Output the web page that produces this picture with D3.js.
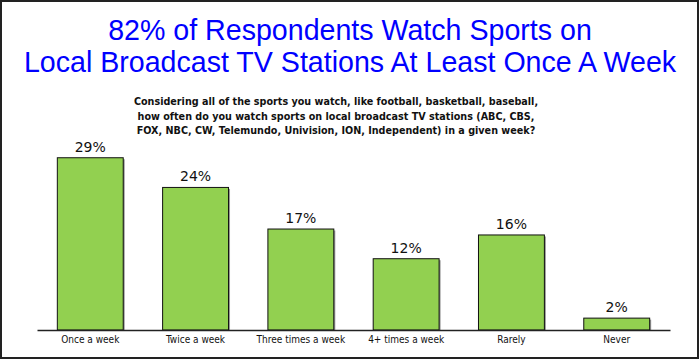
<!DOCTYPE html>
<html><head><meta charset="utf-8">
<script src="https://cdn.jsdelivr.net/npm/d3@7"></script>
<style>body{margin:0;background:#fff}svg{display:block}</style>
</head><body>
<svg id="c" width="700" height="360"></svg>
<script>
const categories = ["Once a week","Twice a week","Three times a week","4+ times a week","Rarely","Never"];
const values = [29,24,17,12,16,2];
const titleLines = ["82% of Respondents Watch Sports on","Local Broadcast TV Stations At Least Once A Week"];
const subtitleLines = ["Considering all of the sports you watch, like football, basketball, baseball,",
 "how often do you watch sports on local broadcast TV stations (ABC, CBS,",
 "FOX, NBC, CW, Telemundo, Univision, ION, Independent) in a given week?"];

const svg = d3.select("#c");
svg.append("rect").attr("x",1).attr("y",1).attr("width",697).attr("height",357)
  .attr("fill","#fff").attr("stroke","#222").attr("stroke-width",2);

svg.selectAll("text.title").data(titleLines).join("text").attr("class","title")
  .attr("x",350).attr("y",(d,i)=>40+i*32).attr("text-anchor","middle")
  .attr("font-family","Liberation Sans, Arial, sans-serif").attr("font-size",28.6)
  .attr("fill","#0000ff").text(d=>d);

svg.selectAll("text.sub").data(subtitleLines).join("text").attr("class","sub")
  .attr("x",336).attr("y",(d,i)=>105+i*14.5).attr("text-anchor","middle")
  .attr("font-family","DejaVu Sans Condensed, DejaVu Sans, sans-serif").attr("font-weight","bold")
  .attr("font-size",10.7).attr("fill","#111").text(d=>d);

const x = d3.scaleBand().domain(categories).range([37,670]).paddingInner(0.374).paddingOuter(0.193);
const y = d3.scaleLinear().domain([0,35]).range([330,330-35*5.94]);

const g = svg.append("g");
g.selectAll("rect.shadow").data(values).join("rect").attr("class","shadow")
  .attr("x",(d,i)=>x(categories[i])+1.5).attr("y",d=>y(d)+1.5)
  .attr("width",x.bandwidth()).attr("height",d=>330-y(d)-1.5).attr("fill","#999");
g.selectAll("rect.bar").data(values).join("rect").attr("class","bar")
  .attr("x",(d,i)=>x(categories[i])).attr("y",d=>y(d))
  .attr("width",x.bandwidth()).attr("height",d=>330-y(d))
  .attr("fill","#92d050").attr("stroke","#111").attr("stroke-width",1);

g.selectAll("text.val").data(values).join("text").attr("class","val")
  .attr("x",(d,i)=>x(categories[i])+x.bandwidth()/2).attr("y",d=>y(d)-6)
  .attr("text-anchor","middle").attr("font-family","DejaVu Sans, Verdana, sans-serif")
  .attr("font-size",14).attr("fill","#111").text(d=>d+"%");

const axis = d3.axisBottom(x).tickSize(0).tickPadding(6);
const ag = svg.append("g").attr("transform","translate(0,330)").call(axis);
ag.select(".domain").attr("stroke","#222").attr("stroke-width",1.5);
ag.selectAll("text").attr("font-family","DejaVu Sans Condensed, DejaVu Sans, sans-serif").attr("font-size",10).attr("fill","#111");
</script>
</body></html>
